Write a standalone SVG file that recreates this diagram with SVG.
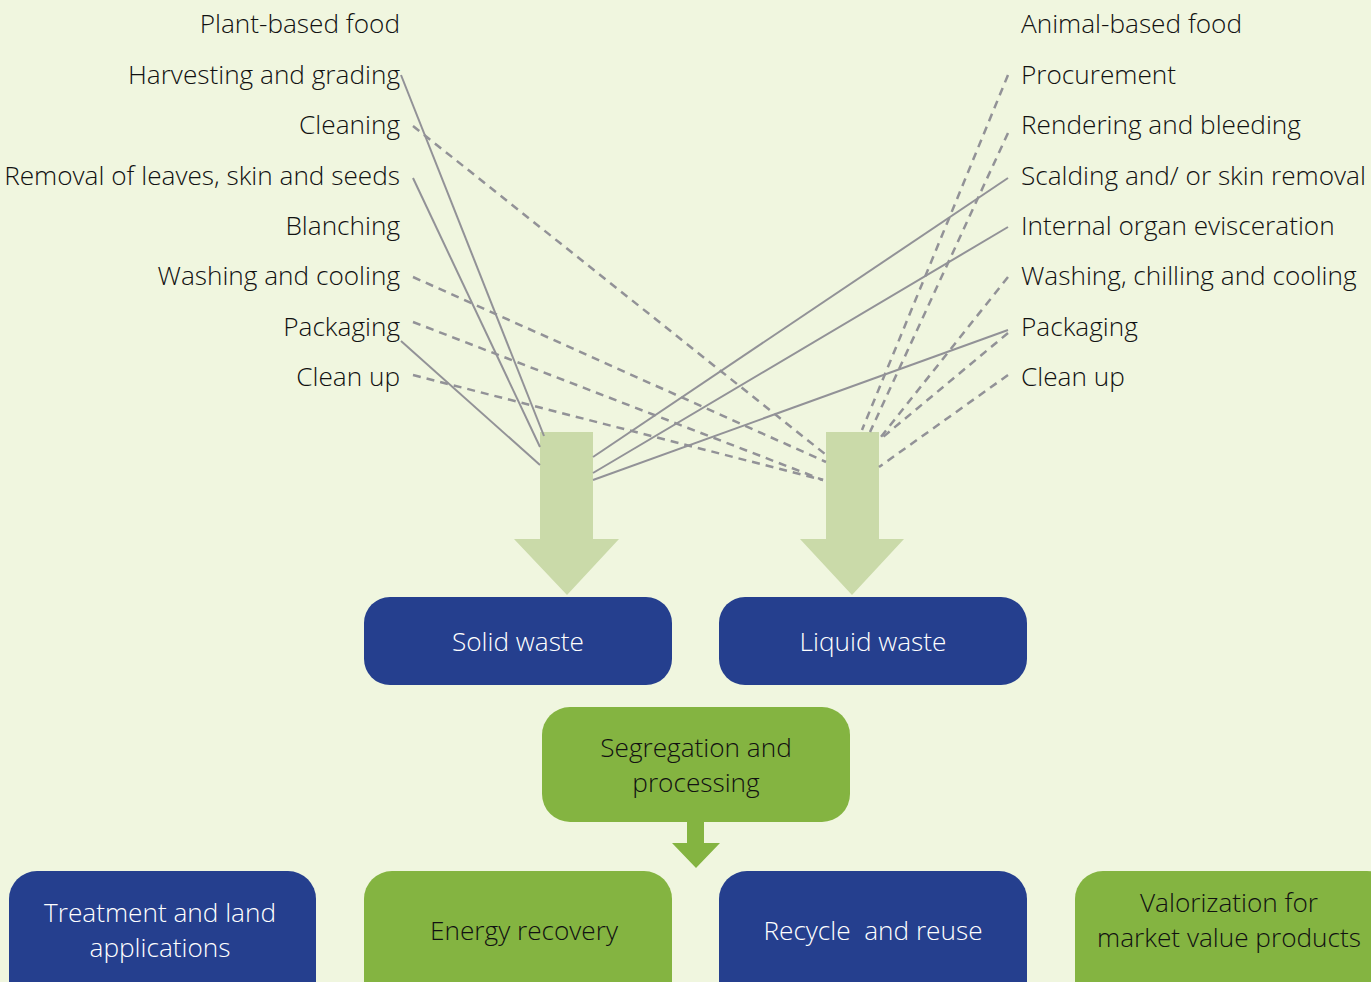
<svg xmlns="http://www.w3.org/2000/svg" width="1371" height="982" viewBox="0 0 1371 982">
<style>
.bg{fill:#f0f6df}
.lbl{font-family:"Open Sans","Noto Sans",sans-serif;font-weight:300;font-size:26.2px;fill:#111111}
.l{text-anchor:end}
.btxt{font-family:"Open Sans","Noto Sans",sans-serif;font-weight:300;font-size:26.2px;text-anchor:middle}
.w{fill:#ffffff}
.d{fill:#111111}
.blue{fill:#253f8e}
.green{fill:#84b441}
.big{fill:#cadaa9}
.s{stroke:#929297;stroke-width:2;fill:none}
.ds{stroke:#929297;stroke-width:2.5;fill:none;stroke-dasharray:8 6}
</style>
<rect class="bg" x="0" y="0" width="1371" height="982"/>
<g id="labels-left">
<text class="lbl l" x="400" y="33">Plant-based food</text>
<text class="lbl l" x="400" y="84">Harvesting and grading</text>
<text class="lbl l" x="400" y="134">Cleaning</text>
<text class="lbl l" x="400" y="185">Removal of leaves, skin and seeds</text>
<text class="lbl l" x="400" y="235">Blanching</text>
<text class="lbl l" x="400" y="285">Washing and cooling</text>
<text class="lbl l" x="400" y="336">Packaging</text>
<text class="lbl l" x="400" y="386">Clean up</text>
</g>
<g id="labels-right">
<text class="lbl" x="1021" y="33">Animal-based food</text>
<text class="lbl" x="1021" y="84">Procurement</text>
<text class="lbl" x="1021" y="134">Rendering and bleeding</text>
<text class="lbl" x="1021" y="185">Scalding and/ or skin removal</text>
<text class="lbl" x="1021" y="235">Internal organ evisceration</text>
<text class="lbl" x="1021" y="285">Washing, chilling and cooling</text>
<text class="lbl" x="1021" y="336">Packaging</text>
<text class="lbl" x="1021" y="386">Clean up</text>
</g>
<g id="solid-arrow"><polygon class="big" points="540,432 593,432 593,539 619,539 567,595 514,539 540,539"/></g>
<g id="liquid-arrow"><polygon class="big" points="826,432 879,432 879,539 904,539 852,595 800,539 826,539"/></g>
<g id="connectors">
<line class="s" x1="401" y1="75" x2="544" y2="436"/>
<line class="s" x1="413" y1="178" x2="540" y2="447"/>
<line class="s" x1="401" y1="341" x2="540" y2="465"/>
<line class="s" x1="1008" y1="178" x2="593" y2="457"/>
<line class="s" x1="1008" y1="227" x2="593" y2="473"/>
<line class="s" x1="1008" y1="330" x2="593" y2="480"/>
<line class="ds" x1="413" y1="126" x2="825" y2="454"/>
<line class="ds" x1="413" y1="277" x2="826" y2="462"/>
<line class="ds" x1="413" y1="322" x2="823" y2="480"/>
<line class="ds" x1="413" y1="375" x2="823" y2="480"/>
<line class="ds" x1="1008" y1="75" x2="862" y2="430"/>
<line class="ds" x1="1008" y1="133" x2="870" y2="432"/>
<line class="ds" x1="1008" y1="277" x2="880" y2="438"/>
<line class="ds" x1="1008" y1="333" x2="883" y2="437"/>
<line class="ds" x1="1008" y1="375" x2="879" y2="467"/>
<polygon class="green" points="687,822 704,822 704,843 720,843 696,868 672,843 687,843"/>
</g>
<g id="solid-waste"><rect class="blue" x="364" y="597" width="308" height="88" rx="26"/><text class="btxt w" x="518" y="651">Solid waste</text></g>
<g id="liquid-waste"><rect class="blue" x="719" y="597" width="308" height="88" rx="26"/><text class="btxt w" x="873" y="651">Liquid waste</text></g>
<g id="segregation"><rect class="green" x="542" y="707" width="308" height="115" rx="28"/><text class="btxt d" x="696" y="757">Segregation and</text><text class="btxt d" x="696" y="792">processing</text></g>
<g id="treatment"><rect class="blue" x="9" y="871" width="307" height="140" rx="28"/><text class="btxt w" x="160" y="922">Treatment and land</text><text class="btxt w" x="160" y="957">applications</text></g>
<g id="energy"><rect class="green" x="364" y="871" width="308" height="140" rx="28"/><text class="btxt d" x="524" y="940">Energy recovery</text></g>
<g id="recycle"><rect class="blue" x="719" y="871" width="308" height="140" rx="28"/><text class="btxt w" x="873" y="940">Recycle&#160; and reuse</text></g>
<g id="valorization"><rect class="green" x="1075" y="871" width="320" height="140" rx="28"/><text class="btxt d" x="1229" y="912">Valorization for</text><text class="btxt d" x="1229" y="947">market value products</text></g>
</svg>
